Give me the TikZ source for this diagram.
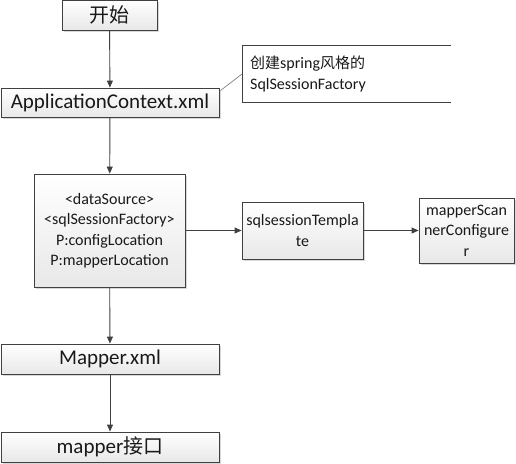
\documentclass[tikz,border=0pt]{standalone}
\usepackage{fontspec}
\setmainfont{Carlito}
\newfontfamily\cjk{Noto Sans CJK SC}
\usetikzlibrary{arrows.meta,shadows}
\definecolor{edge}{HTML}{404040}
\begin{document}
\begin{tikzpicture}[x=1pt,y=-1pt,
  box/.style={draw=edge, line width=0.9pt, top color=white, bottom color=black!9,
    drop shadow={shadow xshift=1.6pt, shadow yshift=-1.6pt, fill=black!30, opacity=0.5},
    inner sep=1pt, align=center, text=black!90},
  bigfont/.style={font=\fontsize{21}{25}\selectfont},
  smallfont/.style={font=\fontsize{16}{20.5}\selectfont},
  arr/.style={-{Triangle[length=7pt,width=6pt]}, draw=edge, line width=0.9pt}]
\useasboundingbox (0,0) rectangle (516,463);
\node[box,bigfont,minimum width=95pt,minimum height=30pt] (start) at (109.5,15) {{\cjk\fontsize{20}{24}\selectfont 开始}};
\node[box,bigfont,minimum width=218pt,minimum height=29pt] (app) at (110,102.5) {ApplicationContext.xml};
\node[box,smallfont,minimum width=151pt,minimum height=113pt] (big) at (109.5,230.5)
  {<dataSource>\\<sqlSessionFactory>\\P:configLocation\\P:mapperLocation};
\node[box,smallfont,minimum width=121pt,minimum height=57pt] (tmpl) at (302.5,230.5)
  {sqlsessionTempla\\te};
\node[box,smallfont,minimum width=95pt,minimum height=65pt] (scan) at (466.5,230.5)
  {mapperScan\\nerConfigure\\r};
\node[box,bigfont,minimum width=218pt,minimum height=30pt] (mapper) at (110,359) {Mapper.xml};
\node[box,bigfont,minimum width=218pt,minimum height=30pt] (iface) at (110,447) {mapper{\cjk\fontsize{20}{24}\selectfont 接口}};
% annotation
\coordinate (nt) at (242,45);
\coordinate (nb) at (242,102);
\coordinate (nte) at (451,45);
\coordinate (nbe) at (451,102);
\coordinate (nmid) at (242,74);
\draw[edge, line width=0.8pt] (nte) -- (nt) -- (nb) -- (nbe);
\node[smallfont, anchor=west, align=left, inner sep=0pt, text=black!90] (note) at (250,74)
  {{\cjk\fontsize{15}{20}\selectfont 创建}spring{\cjk\fontsize{15}{20}\selectfont 风格的}\\SqlSessionFactory};
\draw[black!55, line width=0.6pt] (app.north east) ++(1,3) coordinate (aq) -- (nmid);
% arrows
\draw[arr] (start) -- (app);
\draw[arr] (app) -- (big);
\draw[arr] (big) -- (tmpl);
\draw[arr] (tmpl) -- (scan);
\draw[arr] (big) -- (mapper);
\draw[arr] (mapper) -- (iface);
\end{tikzpicture}
\end{document}
